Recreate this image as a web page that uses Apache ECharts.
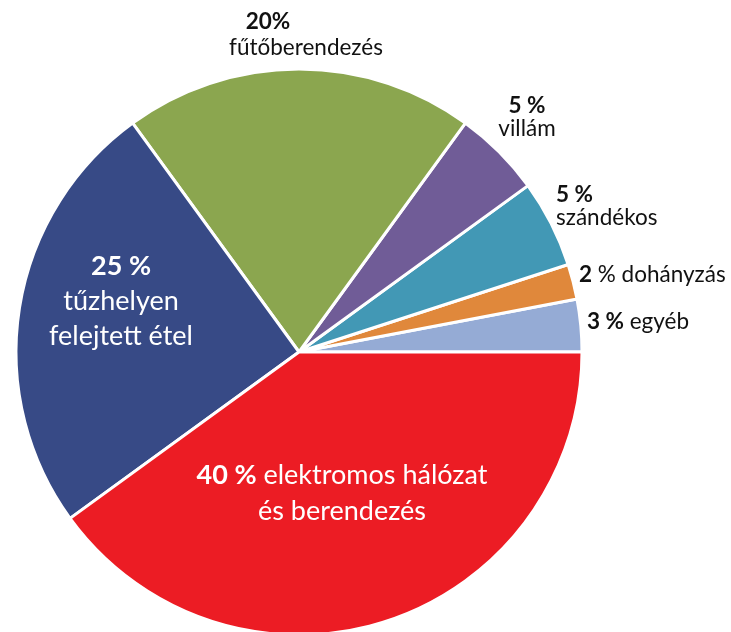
<!DOCTYPE html>
<html>
<head>
<meta charset="utf-8">
<script src="https://cdn.jsdelivr.net/npm/echarts@6/dist/echarts.min.js"></script>
<style>
  html, body { margin: 0; padding: 0; background: #fff; }
  #chart { width: 731px; height: 632px; }
</style>
</head>
<body>
<div id="chart"></div>
<script>
// slices, counter-clockwise from 3 o'clock
var categories = ['egyéb', 'dohányzás', 'szándékos', 'villám', 'fűtőberendezés', 'tűzhelyen felejtett étel', 'elektromos hálózat és berendezés'];
var values = [3, 2, 5, 5, 20, 25, 40];
var pctLabels = ['3 %', '2 %', '5 %', '5 %', '20%', '25 %', '40 %'];
var nameLines = [['egyéb'], ['dohányzás'], ['szándékos'], ['villám'], ['fűtőberendezés'], ['tűzhelyen', 'felejtett étel'], ['elektromos hálózat', 'és berendezés']];

var colors = ['#95abd5', '#e0883b', '#4298b5', '#705c97', '#8ba64f', '#374a86', '#ec1c24'];

// label placement: [x, y, align]
var labelPos = [
  [587, 322, 'left'],
  [579, 275, 'left'],
  [556, 206, 'left'],
  [527, 117, 'center'],
  [306, 35, 'center'],
  [121, 301, 'center'],
  [342, 494, 'center']
];

var fmt = [
  '{b|' + pctLabels[0] + '}{n| ' + nameLines[0][0] + '}',
  '{b|2}{n| ' + pctLabels[1].replace('2', '').trim() + ' ' + nameLines[1][0] + '}',
  '{b|' + pctLabels[2] + '}\n{n|' + nameLines[2][0] + '}',
  '{b|' + pctLabels[3] + '}\n{n|' + nameLines[3][0] + '}',
  '{b20|' + pctLabels[4] + '}\n{n2|' + nameLines[4][0] + '}',
  '{wb|' + pctLabels[5] + '}\n{w|' + nameLines[5][0] + '}\n{w|' + nameLines[5][1] + '}',
  '{wb|' + pctLabels[6] + '}{w| ' + nameLines[6][0] + '}\n{w2|' + nameLines[6][1] + '}'
];

var pieData = categories.map(function (c, i) {
  return {
    name: c,
    value: values[i],
    itemStyle: { color: colors[i] },
    label: { formatter: fmt[i] }
  };
});

var chart = echarts.init(document.getElementById('chart'), null, { renderer: 'canvas' });

var option = {
  animation: false,
  backgroundColor: '#ffffff',
  series: [{
    type: 'pie',
    center: [299, 352],
    radius: 283,
    startAngle: 0,
    clockwise: false,
    avoidLabelOverlap: false,
    itemStyle: { borderColor: '#ffffff', borderWidth: 3 },
    labelLine: { show: false },
    label: {
      show: true,
      position: 'outside',
      fontFamily: 'Lato',
      rich: {
        b: { fontFamily: 'Lato', fontSize: 22.5, fontWeight: 'bold', color: '#111', lineHeight: 23 },
        n: { fontFamily: 'Lato', fontSize: 22.5, color: '#111', lineHeight: 23 },
        b20: { fontFamily: 'Lato', fontSize: 22.5, fontWeight: 'bold', color: '#111', lineHeight: 26, padding: [0, 76, 0, 0] },
        n2: { fontFamily: 'Lato', fontSize: 22.5, color: '#111', lineHeight: 26 },
        wb: { fontFamily: 'Lato', fontSize: 27, fontWeight: 'bold', color: '#fff', lineHeight: 35 },
        w: { fontFamily: 'Lato', fontSize: 27, color: '#fff', lineHeight: 35 },
        w2: { fontFamily: 'Lato', fontSize: 27, color: '#fff', lineHeight: 37 }
      }
    },
    labelLayout: function (params) {
      var p = labelPos[params.dataIndex];
      return { x: p[0], y: p[1], align: p[2], verticalAlign: 'middle', hideOverlap: false };
    },
    data: pieData
  }]
};

chart.setOption(option);
window.addEventListener('resize', function () {
  chart.resize();
});
</script>
</body>
</html>
